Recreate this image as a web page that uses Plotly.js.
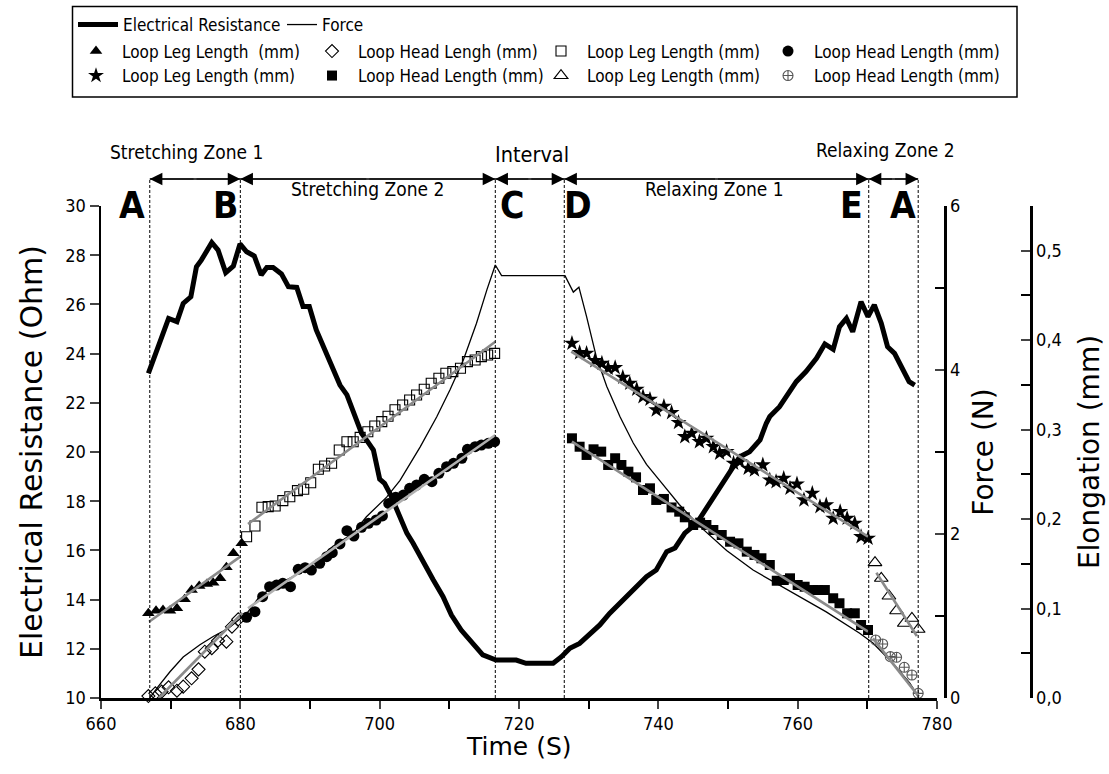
<!DOCTYPE html>
<html><head><meta charset="utf-8">
<script src="https://cdn.plot.ly/plotly-3.0.1.min.js"></script>
<style>html,body{margin:0;padding:0;background:#fff}#chart{width:1109px;height:774px}</style>
</head><body><div id="chart"></div><script>
// ---------- data ----------
const erTime = [666.8,667.8,668.7,669.7,670.9,671.8,672.9,673.7,674.4,675.9,676.8,677.9,679.0,679.95,680.9,682.0,683.0,683.8,684.7,685.9,686.9,688.1,689.0,689.9,690.9,692.1,693.3,694.3,695.3,696.2,697.4,698.1,699.1,700.0,700.7,701.5,702.9,703.9,704.8,706.3,707.7,709.1,710.3,711.7,713.4,714.8,716.7,719.6,721.0,723.0,724.9,726.1,727.3,728.7,730.2,731.6,733.0,734.5,735.9,737.3,738.3,739.7,741.2,742.4,743.8,745.5,746.7,747.9,749.1,750.3,751.7,753.1,754.6,755.5,756.0,757.4,758.6,759.8,761.2,762.7,763.9,765.1,766.0,767.0,767.9,769.1,770.1,771.0,772.0,772.9,773.9,775.1,776.0,776.8];
const erOhm = [23.2,24.0,24.76,25.43,25.3,26.04,26.31,27.53,27.8,28.51,28.21,27.29,27.56,28.46,28.14,27.97,27.2,27.5,27.5,27.24,26.72,26.69,25.91,25.91,24.96,24.15,23.47,22.72,22.32,21.64,20.76,20.49,20.08,18.9,18.73,18.3,17.3,16.7,16.29,15.48,14.8,14.12,13.37,12.76,12.22,11.75,11.54,11.54,11.41,11.41,11.41,11.68,12.02,12.22,12.63,12.97,13.44,13.85,14.26,14.66,14.93,15.2,15.95,16.1,16.7,17.1,17.64,18.18,18.73,19.27,19.81,20.01,20.49,21.17,21.44,21.84,22.39,22.86,23.27,23.81,24.39,24.17,25.09,25.43,24.89,26.11,25.5,25.98,25.23,24.28,24.01,23.33,22.86,22.72];

const forceTime = [667,668.2,669.9,671.8,674.2,676.1,678.3,679.5,680.9,682.8,685.2,687.6,690.5,693.3,696.2,698.1,701,702.9,705.8,708.2,710.1,712,713.9,715.4,716.6,717.5,726.6,727.8,728.6,729.7,731.1,732.6,734.5,736.4,738.3,740.5,743,746,749.8,753.6,759.3,764.1,768.9,770.8,773.7,776.1,777.3];
const forceN = [0,0.14,0.32,0.5,0.65,0.75,0.85,0.93,1.03,1.24,1.38,1.48,1.64,1.85,2.01,2.21,2.45,2.65,3.06,3.43,3.76,4.12,4.57,4.98,5.28,5.15,5.15,4.95,5.01,4.65,4.16,3.8,3.43,3.11,2.85,2.62,2.36,2.09,1.8,1.56,1.28,1.05,0.79,0.67,0.42,0.18,0.02];

const legZ1Time = [666.8,667.9,668.9,669.9,670.9,672.0,673.0,674.1,675.2,676.1,677.1,678.0,679.0,680.2];
const legZ1Mm   = [0.0947,0.0976,0.0984,0.0976,0.1003,0.1103,0.1207,0.1252,0.1274,0.1289,0.1338,0.1461,0.1618,0.1729];

const headZ1Time = [666.8,667.8,668.7,669.7,670.9,671.8,673.0,674.0,674.9,675.9,676.8,678.0,678.8,679.7];
const headZ1Mm   = [0.0022,0.0052,0.0071,0.012,0.0082,0.0127,0.022,0.032,0.0518,0.0556,0.064,0.063,0.0797,0.088];

const legZ2Time = [680.9,682.1,683.1,684.0,685.0,686.1,687.1,688.2,689.1,690.1,691.2,692.1,693.1,694.2,695.3,696.2,697.2,698.3,699.3,700.3,701.2,702.2,703.3,704.3,705.3,706.4,707.4,708.5,709.5,710.5,711.6,712.6,713.7,714.6,715.5,716.5];
const legZ2Mm   = [0.1803,0.1923,0.2132,0.2139,0.2146,0.2206,0.225,0.2318,0.2333,0.2407,0.2557,0.2594,0.2624,0.2773,0.2865,0.2865,0.2914,0.2977,0.3041,0.309,0.315,0.3223,0.3276,0.3331,0.3387,0.3451,0.3518,0.3574,0.363,0.3648,0.3686,0.376,0.3779,0.3816,0.3834,0.3853];

const headZ2Time = [680.9,682.1,683.2,684.2,685.2,686.1,687.2,688.3,689.3,690.2,691.4,692.4,693.2,694.3,695.3,696.3,697.4,698.4,699.5,700.4,701.3,702.3,703.4,704.3,705.3,706.4,707.5,708.5,709.6,710.6,711.8,712.6,713.7,714.6,715.6,716.5];
const headZ2Mm   = [0.0902,0.0965,0.1133,0.1244,0.1263,0.1282,0.1244,0.1439,0.1457,0.1431,0.1506,0.158,0.1625,0.1722,0.187,0.1811,0.1908,0.1953,0.199,0.2035,0.2175,0.2245,0.2269,0.2344,0.2381,0.2445,0.2418,0.2512,0.2586,0.2624,0.268,0.278,0.2809,0.2828,0.2847,0.2865];

const legR1Time = [727.6,728.7,729.7,730.9,731.9,732.8,733.8,734.9,735.9,736.9,737.8,738.8,739.7,740.8,741.9,742.9,743.8,744.8,745.9,746.9,747.9,748.8,749.8,750.8,751.7,752.9,753.8,755.0,756.0,756.9,758.0,758.9,759.9,760.9,762.1,763.2,764.1,765.1,766.1,767.1,768.2,769.1,770.1];
const legR1Mm   = [0.3965,0.386,0.3853,0.3771,0.3742,0.3686,0.3693,0.3585,0.3518,0.3451,0.3368,0.3339,0.322,0.326,0.319,0.308,0.2921,0.2959,0.2865,0.2903,0.2809,0.2736,0.2754,0.2624,0.2642,0.2568,0.2549,0.2605,0.2437,0.2418,0.2456,0.2344,0.2392,0.2214,0.2288,0.2139,0.2158,0.2009,0.2083,0.2009,0.1953,0.1803,0.1785];

const headR1Time = [727.6,728.7,729.7,730.7,731.8,732.8,733.8,734.7,735.7,736.8,737.8,738.8,739.7,740.8,741.9,743.0,743.8,745.0,746.0,746.9,747.9,749.1,750.3,751.5,752.7,753.8,754.8,756.0,757.0,758.0,758.9,760.0,761.0,762.2,762.9,763.9,765.1,766.0,767.1,768.2,769.1,770.1];
const headR1Mm   = [0.2903,0.2809,0.2717,0.278,0.2754,0.2605,0.268,0.2605,0.253,0.2467,0.2325,0.2344,0.2214,0.2225,0.213,0.2083,0.202,0.1934,0.196,0.1934,0.1878,0.1822,0.1747,0.1729,0.1636,0.1599,0.1562,0.1487,0.1311,0.1319,0.1338,0.1263,0.1244,0.1207,0.1207,0.1207,0.1115,0.1059,0.0947,0.0947,0.0816,0.076];

const legR2Time = [771.1,772.0,773.1,774.2,775.3,776.4,777.3];
const legR2Mm   = [0.1513,0.1338,0.114,0.0976,0.0835,0.0891,0.0768];

const headR2Time = [771.2,772.2,773.3,774.2,775.3,776.4,777.3];
const headR2Mm   = [0.0648,0.0604,0.0462,0.0455,0.0343,0.0257,0.0052];

// linear fit end points
const fitLegZ1Time = [666.9,680.0],  fitLegZ1Mm = [0.0853,0.158];
const fitHeadZ1Time = [668.3,680.3], fitHeadZ1Mm = [0.0,0.095];
const fitLegZ2Time = [681.1,716.6],  fitLegZ2Mm = [0.1945,0.3983];
const fitHeadZ2Time = [681.1,716.6], fitHeadZ2Mm = [0.1003,0.294];
const fitLegR1Time = [727.5,770.1],  fitLegR1Mm = [0.3872,0.1803];
const fitHeadR1Time = [727.6,770.1], fitHeadR1Mm = [0.2865,0.0741];
const fitLegR2Time = [771.3,777.1],  fitLegR2Mm = [0.14,0.0693];
const fitHeadR2Time = [770.8,777.4], fitHeadR2Mm = [0.0667,0.0015];

// zones
const zoneBounds = [667, 680, 716.6, 726.5, 770.2, 777.3];
const zoneNames = ['Stretching Zone 1','Stretching Zone 2','Interval','Relaxing Zone 1','Relaxing Zone 2'];
const pointLetters = ['A','B','C','D','E','A'];

const legendNames = {
  er:'Electrical Resistance', force:'Force',
  legZ1:'Loop Leg Length  (mm)', headZ1:'Loop Head Lengh (mm)', legZ2:'Loop Leg Length (mm)', headZ2:'Loop Head Length (mm)',
  legR1:'Loop Leg Length (mm)', headR1:'Loop Head Length (mm)', legR2:'Loop Leg Length (mm)', headR2:'Loop Head Length (mm)'
};
const axisTitles = {x:'Time (S)', y:'Electrical Resistance (Ohm)', y2:'Force (N)', y3:'Elongation (mm)'};

// ---------- build ----------
const NARROW = 'DejaVu Sans Condensed, Liberation Sans Narrow, Liberation Sans, Arial, sans-serif';
const WIDE = 'DejaVu Sans, Liberation Sans, Arial, sans-serif';
const W = 1109, H = 774;
const ML = 101, MR = 40, MT = 206, MB = 76;
const PW = W - ML - MR, PH = H - MT - MB;
const px2x = p => (p - ML) / PW;
const py2y = p => (H - MB - p) / PH;

function mk(x, y, name, legend, symbol, size, color, lineColor, lw) {
  return {x, y, name, legend, type:'scatter', mode:'markers', yaxis:'y3', cliponaxis:false,
    marker:{symbol, size, color, line:{color: lineColor || color, width: lw || 0}}};
}
function fit(x, y, color) {
  return {x, y, type:'scatter', mode:'lines', yaxis:'y3', showlegend:false, hoverinfo:'skip',
    line:{color: color || '#8a8a8a', width:2.6}};
}

const traces = [
  {x: erTime, y: erOhm, name: legendNames.er, legend:'legend', type:'scatter', mode:'lines', yaxis:'y',
   line:{color:'#000', width:5, shape:'linear'}},
  {x: forceTime, y: forceN, name: legendNames.force, legend:'legend2', type:'scatter', mode:'lines', yaxis:'y2',
   line:{color:'#000', width:1.3}},
  mk(legZ1Time, legZ1Mm, legendNames.legZ1, 'legend3', 'triangle-up', 11, '#000'),
  mk(headZ1Time, headZ1Mm, legendNames.headZ1, 'legend4', 'diamond-open', 10, '#000', '#000', 1.1),
  mk(legZ2Time, legZ2Mm, legendNames.legZ2, 'legend5', 'square-open', 10, '#000', '#000', 1.1),
  mk(headZ2Time, headZ2Mm, legendNames.headZ2, 'legend6', 'circle', 11, '#000'),
  mk(legR1Time, legR1Mm, legendNames.legR1, 'legend7', 'star', 12, '#000'),
  mk(headR1Time, headR1Mm, legendNames.headR1, 'legend8', 'square', 10, '#000'),
  mk(legR2Time, legR2Mm, legendNames.legR2, 'legend9', 'triangle-up-open', 12, '#000', '#000', 1.1),
  mk(headR2Time, headR2Mm, legendNames.headR2, 'legend10', 'circle-cross-open', 10, '#555', '#555', 1.1),
  fit(fitLegZ1Time, fitLegZ1Mm),
  fit(fitHeadZ1Time, fitHeadZ1Mm),
  fit(fitLegZ2Time, fitLegZ2Mm),
  fit(fitHeadZ2Time, fitHeadZ2Mm, '#b0b0b0'),
  fit(fitLegR1Time, fitLegR1Mm),
  fit(fitHeadR1Time, fitHeadR1Mm),
  fit(fitLegR2Time, fitLegR2Mm),
  fit(fitHeadR2Time, fitHeadR2Mm)
];

const arrowY = py2y(179);
const shapes = zoneBounds.map(b => ({type:'line', xref:'x', yref:'paper', x0:b, x1:b, y0:0, y1:arrowY,
  line:{color:'#000', width:1, dash:'3px,2px'}}));
shapes.push({type:'line', xref:'x', yref:'paper', x0:zoneBounds[0], x1:zoneBounds[zoneBounds.length-1], y0:arrowY, y1:arrowY,
  line:{color:'#000', width:1.3}});
shapes.push({type:'rect', xref:'paper', yref:'paper', x0:px2x(72.5), x1:px2x(1017), y0:py2y(97), y1:py2y(6.5),
  line:{color:'#000', width:1.5}, fillcolor:'rgba(0,0,0,0)'});

const annotations = [];
for (let i = 0; i < zoneBounds.length - 1; i++) {
  const mid = (zoneBounds[i] + zoneBounds[i+1]) / 2;
  [zoneBounds[i], zoneBounds[i+1]].forEach(end => annotations.push({
    x: end, y: arrowY, xref:'x', yref:'paper', ax: mid, axref:'x', ay: 0, ayref:'pixel',
    text:'', showarrow:true, arrowhead:2, arrowsize:2.1, arrowwidth:1.2, arrowcolor:'#000', standoff:0, startstandoff:0
  }));
}
const zoneLabelPos = [[672.3,152,19],[698.3,189,19],[721.8,155,21.5],[748.1,189,19],[772.6,150,19]];
zoneNames.forEach((n, i) => annotations.push({x: zoneLabelPos[i][0], y: py2y(zoneLabelPos[i][1]), xref:'x', yref:'paper',
  yanchor:'middle', text:n, showarrow:false, font:{family:NARROW, size:zoneLabelPos[i][2], color:'#000'}}));
const letterPos = [664.45, 677.9, 719.0, 728.4, 767.7, 775.1];
pointLetters.forEach((l, i) => annotations.push({x: letterPos[i], y: py2y(205), xref:'x', yref:'paper',
  yanchor:'middle', text:'<b>'+l+'</b>', showarrow:false, font:{family:NARROW, size:37, color:'#000'}}));
// x-axis title (placed close to the tick labels, as in the reference)
annotations.push({x:0.5, xref:'x domain', y:py2y(746), yref:'paper', xanchor:'center', yanchor:'middle',
  text:axisTitles.x, showarrow:false, font:{family:WIDE, size:25, color:'#000'}});

const tickFont = {family:NARROW, size:18, color:'#000'};
const titleFont = {family:WIDE, size:28, color:'#000'};
const legBase = {xref:'container', yref:'container', xanchor:'left', yanchor:'middle', orientation:'h',
  bgcolor:'rgba(0,0,0,0)', borderwidth:0, font:{family:NARROW, size:17, color:'#000'}, traceorder:'normal', itemclick:false};

// legend item placement (px): [left, row centre, itemwidth]
const legendSlots = {
  legend:[73,25,40], legend2:[282,25,30],
  legend3:[70,51.5,42], legend4:[306,51.5,42], legend5:[535,51.5,42], legend6:[762,51.5,42],
  legend7:[70,76,42], legend8:[306,76,42], legend9:[535,76,42], legend10:[762,76,42]
};

const layout = {
  width: W, height: H, margin:{l:ML, r:MR, t:MT, b:MB, pad:0},
  paper_bgcolor:'#fff', plot_bgcolor:'rgba(0,0,0,0)',
  separators: ',.',
  font:{family:NARROW, size:18, color:'#000'},
  showlegend:true,
  xaxis:{domain:[0, px2x(937)], range:[660,780], dtick:20, tick0:660, ticks:'outside', ticklen:8, tickwidth:2,
    showline:true, linewidth:2.5, linecolor:'#000', showgrid:false, zeroline:false, tickfont:tickFont,
    minor:{dtick:10, ticks:'outside', ticklen:8, tickwidth:2, tickcolor:'#000', showgrid:false}},
  yaxis:{range:[10,30], dtick:2, ticks:'outside', ticklen:9, tickwidth:2, showline:true, linewidth:2.5, linecolor:'#000',
    showgrid:false, zeroline:false, tickfont:tickFont, title:{text:axisTitles.y, font:{family:WIDE, size:30, color:'#000'}, standoff:14}},
  yaxis2:{overlaying:'y', side:'right', anchor:'free', position:px2x(945), range:[0,6], dtick:2, ticks:'inside', ticklen:9,
    tickwidth:2, showline:true, linewidth:2.5, linecolor:'#000', showgrid:false, zeroline:false, tickfont:tickFont,
    minor:{dtick:1, ticks:'inside', ticklen:9, tickwidth:2, tickcolor:'#000', showgrid:false},
    title:{text:axisTitles.y2, font:titleFont, standoff:13}},
  yaxis3:{overlaying:'y', side:'right', anchor:'free', position:px2x(1031), range:[0,0.55], dtick:0.1, tickformat:'.1f',
    ticks:'inside', ticklen:9, tickwidth:2, showline:true, linewidth:2.5, linecolor:'#000', showgrid:false, zeroline:false,
    tickfont:tickFont, minor:{dtick:0.05, ticks:'inside', ticklen:9, tickwidth:2, tickcolor:'#000', showgrid:false},
    title:{text:axisTitles.y3, font:titleFont, standoff:18}},
  shapes, annotations
};
Object.keys(legendSlots).forEach(k => {
  const s = legendSlots[k];
  layout[k] = Object.assign({}, legBase, {x: s[0]/W, y: 1 - s[1]/H, itemwidth: s[2]});
});

Plotly.newPlot('chart', traces, layout, {staticPlot:true, displayModeBar:false});
</script></body></html>
